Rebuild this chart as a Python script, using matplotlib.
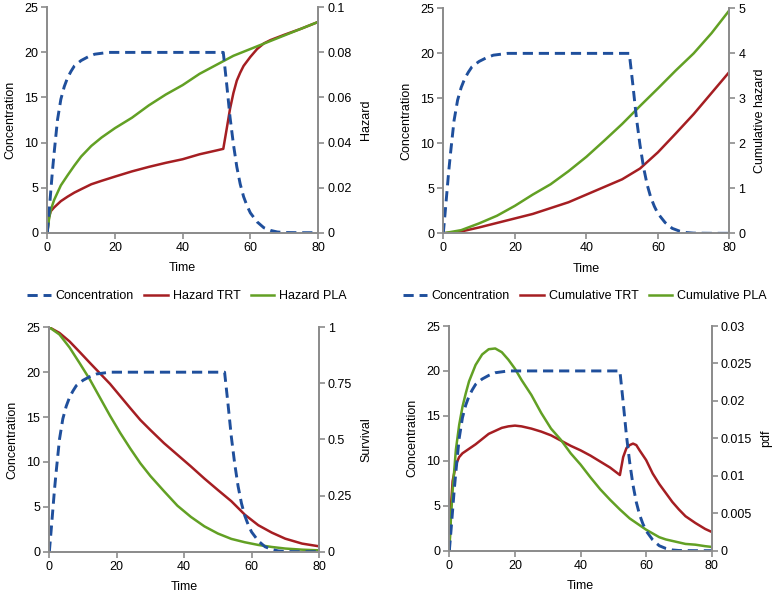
import numpy as np
import matplotlib
matplotlib.use("Agg")
import matplotlib.pyplot as plt

plt.rcParams['font.family'] = ['Liberation Sans', 'DejaVu Sans']
plt.rcParams['font.size'] = 9

# concentration profile (shared by all panels)
t_conc = [0, 0.5, 1, 1.5, 2, 3, 4, 5, 6, 7, 8, 10, 12, 14, 16, 18, 20, 52,
          53, 54, 55, 56, 57, 58, 59, 60, 62, 64, 66, 68, 70, 75, 80]
conc = [0, 2.2, 4.5, 6.8, 8.8, 12.5, 14.8, 16.2, 17.2, 17.9, 18.5, 19.1, 19.5, 19.8, 19.9, 20, 20, 20,
        16.5, 12.8, 9.8, 7.3, 5.4, 4.0, 3.0, 2.2, 1.2, 0.55, 0.25, 0.08, 0.02, 0, 0]

# hazard
t_haz_trt = [0, 0.5, 1, 2, 4, 6, 8, 10, 13, 16, 20, 25, 30, 35, 40, 45, 50, 52,
             53, 54, 55, 56, 57, 58, 60, 62, 64, 66, 70, 75, 80]
haz_trt = [0, 0.007, 0.0095, 0.0112, 0.014, 0.016, 0.0178, 0.0193, 0.0215, 0.023, 0.0249, 0.0272,
           0.0292, 0.031, 0.0326, 0.0348, 0.0365, 0.0372, 0.046, 0.055, 0.062, 0.0675, 0.071, 0.074,
           0.078, 0.0815, 0.084, 0.0855, 0.0878, 0.0905, 0.0935]
t_haz_pla = [0, 0.5, 1, 2, 4, 6, 8, 10, 13, 16, 20, 25, 30, 35, 40, 45, 50, 55, 60, 65, 70, 75, 80]
haz_pla = [0, 0.006, 0.010, 0.0145, 0.021, 0.0255, 0.0298, 0.0338, 0.0385, 0.0422, 0.0464, 0.051,
           0.0565, 0.0613, 0.0655, 0.0705, 0.0745, 0.0785, 0.0815, 0.0845, 0.0875, 0.0905, 0.0935]

# cumulative hazard
t_cum = [0, 5, 10, 15, 20, 25, 30, 35, 40, 45, 50, 55, 60, 65, 70, 75, 80]
cum_trt = [0, 0.04, 0.13, 0.23, 0.33, 0.43, 0.56, 0.69, 0.86, 1.03, 1.2, 1.44, 1.80, 2.22, 2.65, 3.12, 3.59]
cum_pla = [0, 0.07, 0.22, 0.39, 0.61, 0.86, 1.09, 1.38, 1.70, 2.06, 2.43, 2.83, 3.22, 3.62, 4.0, 4.45, 4.96]

# survival
t_surv = [0, 3, 6, 9, 12, 15, 18, 21, 24, 27, 30, 34, 38, 42, 46, 50, 54, 58, 62, 66, 70, 75, 80]
surv_trt = [1.0, 0.975, 0.937, 0.89, 0.842, 0.795, 0.748, 0.694, 0.64, 0.587, 0.542, 0.484, 0.432,
            0.38, 0.326, 0.275, 0.225, 0.165, 0.118, 0.085, 0.058, 0.036, 0.024]
surv_pla = [1.0, 0.968, 0.91, 0.84, 0.768, 0.687, 0.606, 0.53, 0.46, 0.394, 0.337, 0.27, 0.205,
            0.155, 0.113, 0.081, 0.057, 0.042, 0.03, 0.021, 0.014, 0.009, 0.006]

# pdf
t_pdf = [0, 0.5, 1, 2, 3, 4, 5, 6, 8, 10, 12, 14, 16, 18, 20, 22, 25, 28, 31, 34, 37, 40, 43, 46,
         49, 52, 53, 54, 55, 56, 57, 58, 60, 62, 64, 66, 68, 70, 72, 75, 78, 80]
pdf_trt = [0, 0.006, 0.0093, 0.0115, 0.0125, 0.013, 0.0133, 0.0136, 0.0142, 0.0149, 0.0156, 0.016,
           0.0164, 0.0166, 0.0167, 0.0166, 0.0163, 0.0159, 0.0154, 0.0147, 0.014, 0.0134, 0.0127,
           0.0119, 0.0111, 0.0101, 0.0125, 0.0137, 0.0141, 0.0143, 0.0141, 0.0134, 0.0121, 0.0103,
           0.0089, 0.0077, 0.0065, 0.0055, 0.0046, 0.0037, 0.0029, 0.0025]
pdf_pla = [0, 0.0045, 0.008, 0.0135, 0.0168, 0.0192, 0.021, 0.0226, 0.0248, 0.0262, 0.0269, 0.027,
           0.0265, 0.0255, 0.0243, 0.0228, 0.0208, 0.0184, 0.0163, 0.0148, 0.013, 0.0115, 0.0098,
           0.0082, 0.0068, 0.0055, 0.0051, 0.0047, 0.0043, 0.004, 0.0037, 0.0034, 0.0028, 0.0023,
           0.0018, 0.0015, 0.0013, 0.0011, 0.0009, 0.0008, 0.0006, 0.0005]

BLUE = '#1f4f9c'
RED = '#a51e22'
GREEN = '#62a024'
GREY = '#8c8c8c'

fig = plt.figure(figsize=(7.77, 5.95), dpi=100)


def style(ax):
    for s in ax.spines.values():
        s.set_color(GREY)
        s.set_linewidth(1.3)
    ax.tick_params(color=GREY, width=1.2, length=4, direction='out', pad=2.5)


def panel(rect, t1, y1, t2, y2, rticks, rlabels, rlabel, rmax):
    ax = fig.add_axes(rect)
    l1, = ax.plot(t_conc, conc, color=BLUE, lw=2.1, ls=(0, (3.5, 2)))
    ax.set_xlim(0, 80)
    ax.set_ylim(0, 25)
    ax.set_xticks([0, 20, 40, 60, 80])
    ax.set_yticks([0, 5, 10, 15, 20, 25])
    ax.set_xlabel('Time', labelpad=6)
    ax.set_ylabel('Concentration', labelpad=6)
    ax.spines['top'].set_visible(False)
    style(ax)
    ax2 = ax.twinx()
    l2, = ax2.plot(t1, y1, color=RED, lw=1.8)
    l3, = ax2.plot(t2, y2, color=GREEN, lw=1.8)
    ax2.set_ylim(0, rmax)
    ax2.set_yticks(rticks)
    ax2.set_yticklabels(rlabels)
    ax2.set_ylabel(rlabel, labelpad=6)
    ax2.spines['top'].set_visible(False)
    style(ax2)
    ax.set_zorder(ax2.get_zorder() + 1)
    ax.patch.set_visible(False)
    return [l1, l2, l3]


leg_kw = dict(loc='center', ncol=3, frameon=False, handlelength=1.9,
              columnspacing=0.8, handletextpad=0.4)

h = panel([0.0609, 0.6089, 0.3484, 0.3788], t_haz_trt, haz_trt, t_haz_pla, haz_pla,
          [0, 0.02, 0.04, 0.06, 0.08, 0.1], ['0', '0.02', '0.04', '0.06', '0.08', '0.1'], 'Hazard', 0.1)
fig.legend(h, ['Concentration', 'Hazard TRT', 'Hazard PLA'],
           bbox_to_anchor=(187 / 777, 0.5025), **leg_kw)

h = panel([0.5705, 0.6079, 0.3683, 0.378], t_cum, cum_trt, t_cum, cum_pla,
          [0, 1, 2, 3, 4, 5], ['0', '1', '2', '3', '4', '5'], 'Cumulative hazard', 5)
fig.legend(h, ['Concentration', 'Cumulative TRT', 'Cumulative PLA'],
           bbox_to_anchor=(585 / 777, 0.5025), **leg_kw)

panel([0.0635, 0.0728, 0.347, 0.3771], t_surv, surv_trt, t_surv, surv_pla,
      [0, 0.25, 0.5, 0.75, 1], ['0', '0.25', '0.5', '0.75', '1'], 'Survival', 1)

panel([0.5783, 0.0745, 0.3377, 0.3776], t_pdf, pdf_trt, t_pdf, pdf_pla,
      [0, 0.005, 0.01, 0.015, 0.02, 0.025, 0.03],
      ['0', '0.005', '0.01', '0.015', '0.02', '0.025', '0.03'], 'pdf', 0.03)

fig.savefig('out.png', dpi=100)
